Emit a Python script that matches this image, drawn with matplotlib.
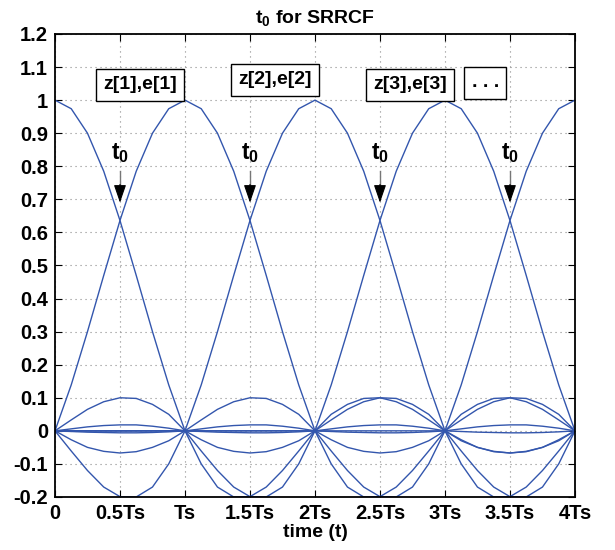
import numpy as np
import matplotlib
matplotlib.use("Agg")
import matplotlib.pyplot as plt

plt.rcParams['font.family'] = ['Liberation Sans', 'DejaVu Sans']
plt.rcParams['font.weight'] = 'bold'
plt.rcParams['mathtext.fontset'] = 'custom'
plt.rcParams['mathtext.rm'] = 'Liberation Sans:bold'
plt.rcParams['mathtext.it'] = 'Liberation Sans:bold'
plt.rcParams['mathtext.bf'] = 'Liberation Sans:bold'

# ---- data ----
samples_per_symbol = 8
# one-sided pulse samples at lags 0, Ts/8, 2Ts/8, ... (symmetric pulse)
pulse_main = [1.0, 0.974, 0.90, 0.785, 0.636, 0.47, 0.30, 0.139, 0.0]
pulse_lobe1 = [-0.10, -0.17, -0.20, -0.199, -0.17, -0.12, -0.061, 0.0]
pulse_lobe2 = [0.05, 0.08, 0.098, 0.10, 0.088, 0.065, 0.033, 0.0]
pulse_lobe3 = [-0.03, -0.05, -0.063, -0.067, -0.062, -0.05, -0.027, 0.0]
pulse_lobe4 = [0.008, 0.014, 0.018, 0.018, 0.016, 0.012, 0.006, 0.0]
pulse_lobe5 = [-0.003, -0.005, -0.006, -0.006, -0.005, -0.004, -0.002, 0.0]
symbol_centers = [0, 1, 2, 3, 4, 5, 6, 7, 8, 9]   # pulse centres in units of Ts
n_symbols_shown = 4

xtick_vals = [0, 0.5, 1, 1.5, 2, 2.5, 3, 3.5, 4]
xtick_labels = ['0', '0.5Ts', 'Ts', '1.5Ts', '2Ts', '2.5Ts', '3Ts', '3.5Ts', '4Ts']
ytick_vals = [-0.2, -0.1, 0, 0.1, 0.2, 0.3, 0.4, 0.5, 0.6, 0.7, 0.8, 0.9, 1.0, 1.1, 1.2]
ytick_labels = ['-0.2', '-0.1', '0', '0.1', '0.2', '0.3', '0.4', '0.5', '0.6',
                '0.7', '0.8', '0.9', '1', '1.1', '1.2']
box_labels = ['z[1],e[1]', 'z[2],e[2]', 'z[3],e[3]', '. . .']
box_x = [0.655, 1.69, 2.73, 3.31]
box_y = [1.046, 1.061, 1.046, 1.052]
t0_positions = [0.5, 1.5, 2.5, 3.5]

# ---- build pulse ----
pulse = np.array(pulse_main + pulse_lobe1 + pulse_lobe2 + pulse_lobe3
                 + pulse_lobe4 + pulse_lobe5)
n = np.arange(0, n_symbols_shown * samples_per_symbol + 1)
t = n / samples_per_symbol

fig = plt.figure(figsize=(6.15, 5.5), dpi=100)
ax = fig.add_axes([0.0894, 0.0964, 0.8455, 0.8418])

line_color = '#3356ad'
for c in symbol_centers:
    idx = np.abs(n - c * samples_per_symbol)
    vals = np.where(idx < len(pulse), pulse[np.minimum(idx, len(pulse) - 1)], 0.0)
    ax.plot(t, vals, color=line_color, lw=1.0)

ax.set_xlim(0, 4)
ax.set_ylim(-0.2, 1.2)
ax.set_xticks(xtick_vals)
ax.set_xticklabels(xtick_labels)
ax.set_yticks(ytick_vals)
ax.set_yticklabels(ytick_labels)
ax.tick_params(direction='in', top=True, right=True, length=5, width=0.8,
               labelsize=14.5, pad=5)
for s in ax.spines.values():
    s.set_linewidth(1.3)
ax.grid(True, linestyle=(0, (1, 3.5)), color='#8a8a8a', lw=0.8)

ax.set_title('t$_0$ for SRRCF', fontsize=14, fontweight='bold', pad=8)
ax.set_xlabel('time (t)', fontsize=14, fontweight='bold', labelpad=1)

for lab, bx, by in zip(box_labels, box_x, box_y):
    ax.text(bx, by, lab, ha='center', va='center', fontsize=14, fontweight='bold',
            bbox=dict(boxstyle='square,pad=0.38', fc='white', ec='black', lw=1.0),
            zorder=5)

for xp in t0_positions:
    ax.text(xp, 0.84, 't$_0$', ha='center', va='center', fontsize=16.5,
            fontweight='bold', zorder=5)
    ax.plot([xp, xp], [0.785, 0.735], color='#777777', lw=1.0, zorder=5)
    ax.annotate('', xy=(xp, 0.69), xytext=(xp, 0.745),
                arrowprops=dict(arrowstyle='-|>,head_length=1.1,head_width=0.38',
                                color='black', lw=0.8, shrinkA=0, shrinkB=0),
                zorder=6)

fig.savefig('out.png', dpi=100)
